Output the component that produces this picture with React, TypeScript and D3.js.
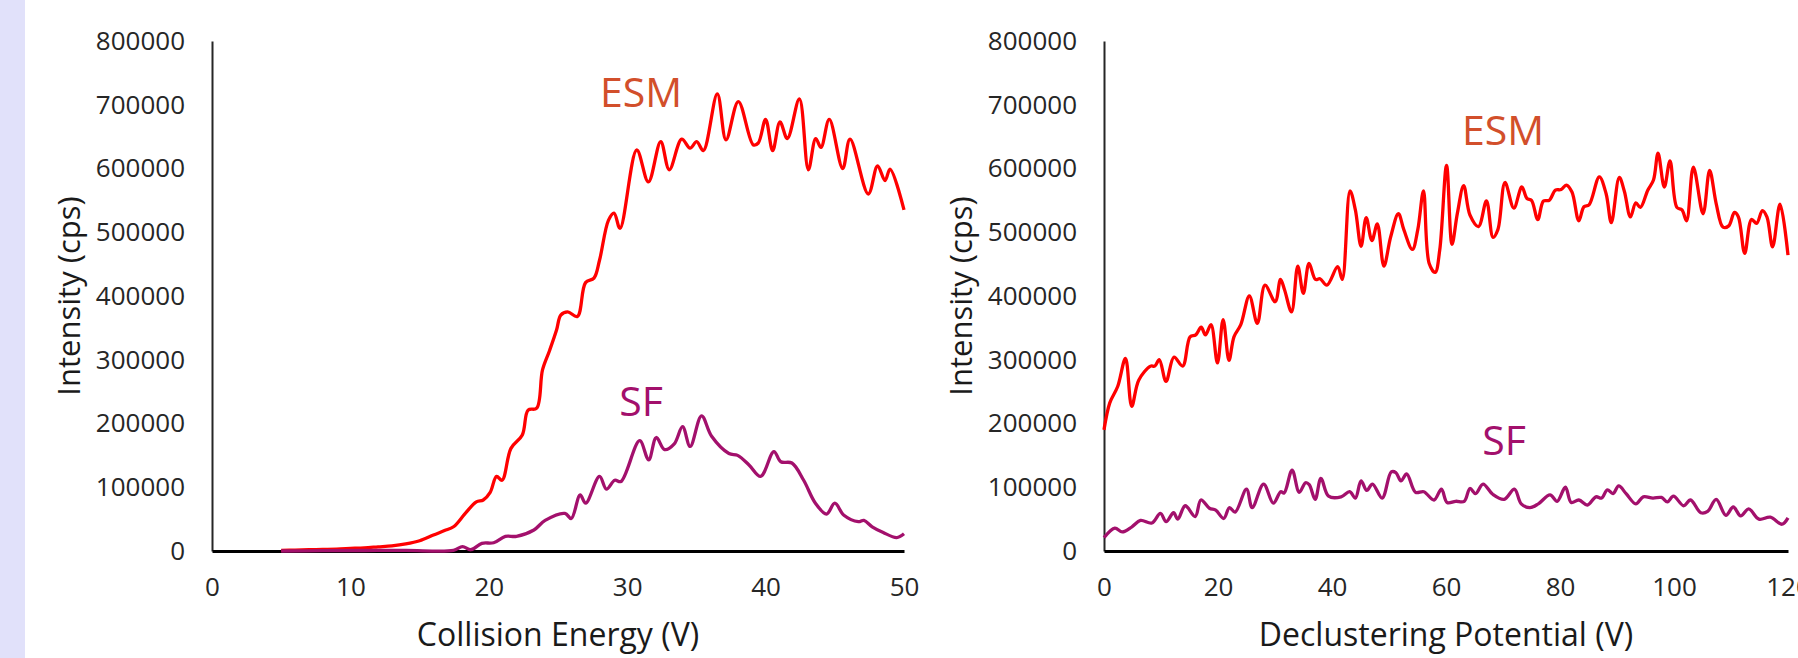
import React, { useEffect, useRef } from 'react';
import * as d3 from 'd3';

type Pt = [number, number];

// tick values
const intensityTicks = [0, 100000, 200000, 300000, 400000, 500000, 600000, 700000, 800000];
const ceTicks = [0, 10, 20, 30, 40, 50];
const dpTicks = [0, 20, 40, 60, 80, 100, 120];

// collision energy (V) vs intensity (cps)
const ceEsm: Pt[] = [
  [5, 1000], [6, 1500], [7, 2000], [8, 2500], [9, 3000], [10, 4000], [11, 5000], [12, 6500],
  [13, 8000], [14, 11000], [15, 16000], [16, 25000], [16.8, 32000], [17.45, 38000], [18.3, 59000],
  [19.1, 77000], [19.6, 80000], [20.1, 92000], [20.56, 117000], [20.96, 111000], [21.6, 161000],
  [22.42, 182000], [22.84, 221000], [23.46, 224000], [23.88, 284000], [24.4, 315000], [24.9, 347000],
  [25.2, 370000], [25.7, 375000], [26.4, 368000], [26.99, 421000], [27.6, 428000], [28.0, 456000],
  [28.65, 519000], [29.05, 530000], [29.48, 506000], [30.69, 629000], [31.53, 579000], [32.42, 642000],
  [33.04, 598000], [33.94, 646000], [34.54, 632000], [35.02, 642000], [35.5, 628000], [36.51, 717000],
  [37.14, 645000], [38.03, 705000], [39.11, 637000], [39.47, 640000], [40.0, 677000], [40.51, 628000],
  [41.04, 673000], [41.57, 647000], [42.44, 709000], [43.09, 598000], [43.62, 647000], [44.0, 633000],
  [44.6, 677000], [45.57, 600000], [46.1, 646000], [47.42, 560000], [48.09, 604000], [48.63, 581000],
  [48.99, 599000], [50, 535000],
];

const ceSf: Pt[] = [
  [5, 0], [8, 500], [11, 800], [14, 1000], [17.45, 1000], [18.1, 7000], [18.7, 2000], [19.5, 12000],
  [20.35, 13000], [21.2, 23000], [22.0, 23000], [23.26, 33000], [24.07, 48000], [25.5, 59000],
  [25.96, 51000], [26.6, 88000], [27.0, 75000], [28.0, 117000], [28.5, 97000], [29.1, 111000],
  [29.55, 109000], [30.9, 173000], [31.55, 143000], [32.1, 178000], [32.7, 159000], [33.4, 168000],
  [34.0, 195000], [34.55, 164000], [35.37, 212000], [36.1, 180000], [37.35, 153000], [37.98, 150000],
  [38.8, 135000], [39.64, 117000], [40.6, 156000], [41.1, 140000], [41.9, 138000], [42.75, 111000],
  [43.6, 75000], [44.4, 58000], [45.0, 75000], [45.66, 56000], [46.7, 46000], [47.1, 48000],
  [47.7, 38000], [48.5, 29000], [49.47, 21000], [50, 27000],
];

// declustering potential (V) vs intensity (cps)
const dpEsm: Pt[] = [
  [0, 190000], [1.0, 232000], [2.4, 258000], [3.77, 302000], [4.86, 227000], [6.09, 268000],
  [8.17, 290000], [8.9, 290000], [9.7, 300000], [10.88, 266000], [12.28, 304000], [13.8, 290000],
  [15.1, 336000], [16.1, 339000], [17.05, 351000], [17.8, 339000], [18.77, 355000], [19.9, 295000],
  [20.9, 363000], [21.93, 299000], [22.8, 336000], [24.0, 355000], [25.5, 400000], [26.9, 357000],
  [28.25, 417000], [30.03, 391000], [30.97, 426000], [31.7, 409000], [32.9, 375000], [34.0, 447000],
  [34.97, 404000], [35.97, 451000], [37.1, 426000], [37.9, 427000], [39.1, 417000], [41.0, 446000],
  [41.8, 426000], [43.16, 565000], [44.1, 535000], [45.1, 478000], [46.0, 523000], [47.0, 487000],
  [47.95, 513000], [49.1, 447000], [50.3, 493000], [51.65, 529000], [52.6, 504000], [54.1, 473000],
  [55.05, 504000], [56.05, 565000], [57.05, 451000], [58.1, 437000], [58.9, 472000], [60.1, 605000],
  [61.05, 481000], [62.0, 530000], [63.1, 573000], [64.2, 527000], [65.7, 509000], [67.1, 549000],
  [68.25, 492000], [69.1, 504000], [70.35, 578000], [71.9, 538000], [73.3, 571000], [74.2, 553000],
  [75.0, 550000], [76.1, 520000], [77.1, 549000], [78.1, 550000], [79.2, 566000], [80.2, 567000],
  [81.1, 574000], [82.1, 563000], [83.3, 518000], [84.2, 540000], [85.1, 543000], [86.9, 587000],
  [88.1, 560000], [89.0, 515000], [90.4, 586000], [91.3, 564000], [92.35, 524000], [93.3, 546000],
  [94.1, 539000], [95.4, 566000], [96.4, 582000], [97.2, 624000], [98.3, 571000], [99.3, 612000],
  [100.5, 539000], [101.4, 535000], [102.2, 518000], [103.4, 602000], [105.1, 529000], [106.25, 597000],
  [107.4, 545000], [108.6, 508000], [109.6, 510000], [110.6, 531000], [111.3, 524000], [112.4, 467000],
  [113.6, 520000], [114.5, 514000], [115.5, 534000], [116.3, 524000], [117.3, 477000], [118.6, 544000],
  [120, 464000],
];

const dpSf: Pt[] = [
  [0, 21000], [1.9, 36000], [3.2, 30000], [4.9, 38000], [6.4, 48000], [8.4, 44000], [9.9, 59000],
  [10.9, 46000], [12.2, 60000], [12.95, 50000], [14.25, 71000], [16.0, 54000], [17.0, 80000],
  [18.5, 67000], [19.6, 64000], [21.0, 51000], [22.0, 68000], [23.0, 61000], [25.0, 97000],
  [26.0, 68000], [28.0, 105000], [29.7, 75000], [31.0, 93000], [31.6, 91000], [33.0, 127000],
  [34.25, 92000], [35.35, 107000], [36.0, 104000], [37.05, 81000], [38.05, 114000], [39.4, 86000],
  [41.6, 85000], [43.1, 93000], [44.1, 83000], [45.1, 110000], [46.1, 95000], [47.1, 105000],
  [48.8, 83000], [50.4, 124000], [51.2, 123000], [52.1, 110000], [53.1, 121000], [54.65, 92000],
  [56.1, 93000], [57.9, 80000], [59.2, 97000], [60.2, 76000], [61.7, 78000], [63.2, 78000],
  [64.2, 98000], [65.2, 90000], [66.5, 105000], [68.2, 89000], [70.2, 81000], [72.0, 97000],
  [73.2, 74000], [74.7, 68000], [76.2, 74000], [78.25, 88000], [79.5, 78000], [80.95, 100000],
  [81.97, 76000], [83.3, 80000], [84.8, 72000], [86.3, 85000], [87.3, 83000], [88.3, 96000],
  [89.3, 90000], [90.3, 102000], [91.6, 90000], [93.3, 74000], [94.6, 85000], [96.3, 83000],
  [97.8, 84000], [98.85, 77000], [99.9, 86000], [101.7, 71000], [102.9, 80000], [104.7, 60000],
  [105.9, 62000], [107.4, 81000], [109.1, 56000], [110.4, 69000], [111.7, 55000], [113.1, 66000],
  [114.9, 50000], [116.9, 53000], [118.95, 42000], [120, 52000],
];

const W = 1798;
const H = 658;
const FONT = '"Open Sans", "Noto Sans", sans-serif';
const TEXT = '#262626';
const ESM_LINE = '#ff0000';
const SF_LINE = '#a3106c';
const ESM_TEXT = '#d24f2b';
const SF_TEXT = '#a3106c';

const panels = [
  {
    xTitle: 'Collision Energy (V)', xMax: 50, xTicks: ceTicks, left: 212, right: 904,
    esm: ceEsm, sf: ceSf, esmAt: [641, 107], sfAt: [641, 416],
  },
  {
    xTitle: 'Declustering Potential (V)', xMax: 120, xTicks: dpTicks, left: 1104, right: 1788,
    esm: dpEsm, sf: dpSf, esmAt: [1503, 145], sfAt: [1504, 455],
  },
];

const drawPanel = (svg: d3.Selection<SVGSVGElement, unknown, null, undefined>, p: typeof panels[0]) => {
  const x = d3.scaleLinear().domain([0, p.xMax]).range([p.left, p.right]);
  const y = d3.scaleLinear().domain([0, 800000]).range([551, 41]);
  const g = svg.append('g');

  const yAxis = g.append('g')
    .attr('transform', `translate(${p.left},0)`)
    .call(d3.axisLeft(y).tickValues(intensityTicks).tickSize(0).tickPadding(27).tickFormat(d3.format('d')));
  yAxis.select('.domain').attr('stroke', '#262626').attr('stroke-width', 2);
  yAxis.selectAll('text').attr('font-family', FONT).attr('font-size', 26).attr('fill', TEXT);

  const xAxis = g.append('g')
    .attr('transform', 'translate(0,551)')
    .call(d3.axisBottom(x).tickValues(p.xTicks).tickSize(0).tickPadding(27));
  xAxis.select('.domain').attr('stroke', '#000').attr('stroke-width', 3);
  xAxis.selectAll('text').attr('font-family', FONT).attr('font-size', 26).attr('fill', TEXT);

  // axis titles
  g.append('text')
    .text(p.xTitle)
    .attr('x', (p.left + p.right) / 2)
    .attr('y', 646)
    .attr('text-anchor', 'middle')
    .attr('font-family', FONT)
    .attr('font-size', 32)
    .attr('fill', '#1a1a1a');

  g.append('text')
    .text('Intensity (cps)')
    .attr('transform', `translate(${p.left - 132},296) rotate(-90)`)
    .attr('text-anchor', 'middle')
    .attr('font-family', FONT)
    .attr('font-size', 31)
    .attr('fill', '#1a1a1a');

  const line = d3.line<Pt>()
    .x(d => x(d[0]))
    .y(d => y(d[1]))
    .curve(d3.curveCatmullRom.alpha(0.5));

  g.append('path').datum(p.esm)
    .attr('d', line)
    .attr('fill', 'none')
    .attr('stroke', ESM_LINE)
    .attr('stroke-width', 3.3)
    .attr('stroke-linejoin', 'round');

  g.append('path').datum(p.sf)
    .attr('d', line)
    .attr('fill', 'none')
    .attr('stroke', SF_LINE)
    .attr('stroke-width', 3.3)
    .attr('stroke-linejoin', 'round');

  // series labels
  g.append('text').text('ESM')
    .attr('x', p.esmAt[0]).attr('y', p.esmAt[1])
    .attr('text-anchor', 'middle')
    .attr('font-family', FONT).attr('font-size', 41)
    .attr('fill', ESM_TEXT);
  g.append('text').text('SF')
    .attr('x', p.sfAt[0]).attr('y', p.sfAt[1])
    .attr('text-anchor', 'middle')
    .attr('font-family', FONT).attr('font-size', 41)
    .attr('fill', SF_TEXT);
};

export default function App() {
  const ref = useRef<SVGSVGElement>(null);

  useEffect(() => {
    const svg = d3.select(ref.current as SVGSVGElement);
    svg.selectAll('*').remove();
    svg.append('rect').attr('width', W).attr('height', H).attr('fill', '#fff');
    svg.append('rect').attr('width', 25).attr('height', H).attr('fill', '#e1e1fa');
    panels.forEach(p => drawPanel(svg, p));
  }, []);

  return (
    <svg
      ref={ref}
      width={W}
      height={H}
      style={{ position: 'absolute', left: 0, top: 0, display: 'block' }}
    />
  );
}
